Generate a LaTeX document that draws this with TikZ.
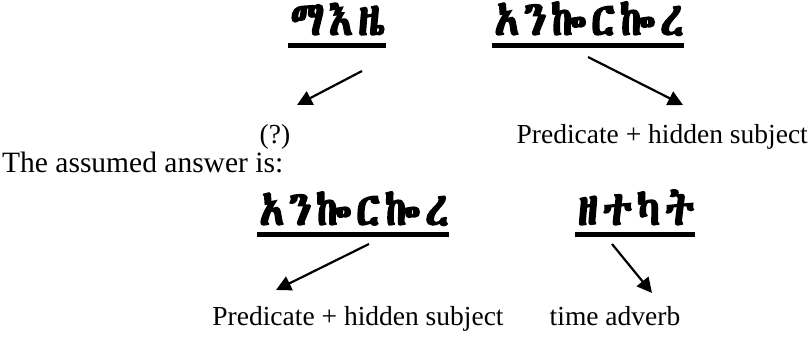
\documentclass[tikz,border=0pt]{standalone}
\usepackage{fontspec}
\setmainfont{Liberation Serif}
\usetikzlibrary{arrows.meta}
\IfFontExistsTF{Abyssinica SIL}{\newfontfamily\ethfont[FakeBold=3,FakeStretch=0.85,LetterSpace=10]{Abyssinica SIL}}{%
 \IfFontExistsTF{FreeSerif.otf}{\newfontfamily\ethfont[FakeBold=3,FakeStretch=0.85,LetterSpace=10]{FreeSerif.otf}}{%
 \newfontfamily\ethfont[FakeStretch=0.85,LetterSpace=10]{Noto Sans Ethiopic}}}
\tikzset{
  eth/.style={font=\ethfont\fontsize{48}{50}\selectfont, inner sep=0pt, anchor=base},
  lbl/.style={font=\fontsize{27.5}{30}\selectfont, inner sep=0pt, anchor=base},
  ul/.style={line width=5pt},
  arr/.style={line width=2.2pt, -{Triangle[length=15pt,width=15pt]}},
}
\begin{document}
\begin{tikzpicture}[x=1pt,y=-1pt]
\useasboundingbox (0,0) rectangle (810,341);
% upper words
\node[eth] (w1) at (338,35) {ማእዜ};
\node[eth] (w2) at (589,35) {አንኰርኰረ};
\draw[ul] ([xshift=-2pt,yshift=-10.5pt]w1.base west) -- ([yshift=-10.5pt]w1.base east);
\draw[ul] ([xshift=-2pt,yshift=-10.5pt]w2.base west) -- ([yshift=-10.5pt]w2.base east);
% upper labels
\node[lbl] (q) at (275,143) {(?)};
\node[lbl, anchor=base east] (p1) at (808,143) {Predicate + hidden subject};
\node[lbl, anchor=base west, font=\fontsize{29.5}{30}\selectfont] (t) at (2,172) {The assumed answer is:};
% lower words
\node[eth] (w3) at (354,225) {አንኰርኰረ};
\node[eth] (w4) at (636,225) {ዘተካት};
\draw[ul] ([xshift=-2pt,yshift=-9pt]w3.base west) -- ([yshift=-9pt]w3.base east);
\draw[ul] ([xshift=-2pt,yshift=-9pt]w4.base west) -- ([yshift=-9pt]w4.base east);
% lower labels
\node[lbl] (p2) at (358,325) {Predicate + hidden subject};
\node[lbl] (ta) at (615,325) {time adverb};
% arrow coordinates
\coordinate (a1s) at (362,71);
\coordinate (a1e) at (297,105);
\coordinate (a2s) at (588,57);
\coordinate (a2e) at (683,105);
\coordinate (a3s) at (369,244);
\coordinate (a3e) at (276,290);
\coordinate (a4s) at (612,244);
\coordinate (a4e) at (652,293);
\draw[arr] (a1s) -- (a1e);
\draw[arr] (a2s) -- (a2e);
\draw[arr] (a3s) -- (a3e);
\draw[arr] (a4s) -- (a4e);
\end{tikzpicture}
\end{document}
